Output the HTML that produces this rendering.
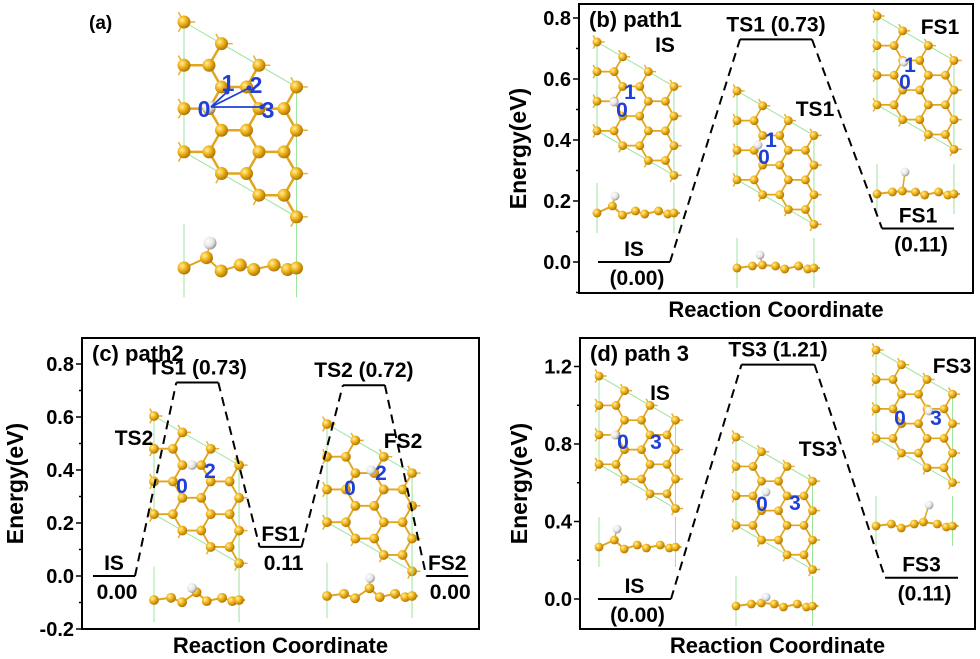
<!DOCTYPE html>
<html><head><meta charset="utf-8">
<style>
body{margin:0;background:#fff;}
svg{display:block;font-family:"Liberation Sans",Arial,sans-serif;font-weight:bold;}
</style></head>
<body>
<svg id="fig" width="980" height="659" viewBox="0 0 980 659" xmlns="http://www.w3.org/2000/svg">
<defs>
<radialGradient id="au" cx="0.35" cy="0.35" r="0.7"><stop offset="0" stop-color="#fff2a0"/><stop offset="0.45" stop-color="#f2b51c"/><stop offset="1" stop-color="#a87000"/></radialGradient>
<radialGradient id="hh" cx="0.35" cy="0.35" r="0.7"><stop offset="0" stop-color="#ffffff"/><stop offset="0.6" stop-color="#e4e4e4"/><stop offset="1" stop-color="#909090"/></radialGradient>
</defs>
<g id="structs"></g>
<g id="charts"></g>
<text x="89" y="29" font-size="19">(a)</text>
</svg>
<script>
// ---- chart data ----
const pathBLabels = ["IS","TS1","FS1"];
const pathBValues = [0.00, 0.73, 0.11];
const pathCLabels = ["IS","TS1","FS1","TS2","FS2"];
const pathCValues = [0.00, 0.73, 0.11, 0.72, 0.00];
const pathDLabels = ["IS","TS3","FS3"];
const pathDValues = [0.00, 1.21, 0.11];
const ticksB = ["0.0","0.2","0.4","0.6","0.8"];
const ticksC = ["-0.2","0.0","0.2","0.4","0.6","0.8"];
const ticksD = ["0.0","0.4","0.8","1.2"];

const NS="http://www.w3.org/2000/svg";
function mk(tag, attrs, parent){const e=document.createElementNS(NS,tag);for(const k in attrs)e.setAttribute(k,attrs[k]);parent.appendChild(e);return e;}
function txt(parent,x,y,s,size,anchor,fill){const t=mk('text',{x:x,y:y,'font-size':size,'text-anchor':anchor||'middle',fill:fill||'#000'},parent);t.textContent=s;return t;}

const charts=document.getElementById('charts');
const structs=document.getElementById('structs');

// ---- structures ----
function slab(name,cx,cy,b){
  const g=mk('g',{},structs);
  
  
  const h=Math.sqrt(3)*b, t=Math.tan(Math.PI/6);
  const W=4.5*b, H=3*h;
  const pts=[[cx,cy],[cx+W,cy+W*t],[cx+W,cy+W*t+H],[cx,cy+H]];
  mk('polygon',{points:pts.map(p=>p.join(',')).join(' '),fill:'none',stroke:'#9be49b','stroke-width':1},g);
  const atoms=[];
  const inside=(x,y)=>{const dx=x-cx,dy=y-cy;const u=dx/W,v=(dy-dx*t)/H;return u>-0.03&&u<1.03&&v>-0.03&&v<1.03;};
  for(let i=-1;i<=4;i++)for(let j=-2;j<=4;j++){
    const bx=cx+i*1.5*b, by=cy+i*h/2+j*h;
    [[0,0,0],[b,0,1]].forEach(o=>{const x=bx+o[0],y=by+o[1];if(inside(x,y))atoms.push({x:x,y:y,k:o[2]});});
  }
  const dirs=[[b,0],[-0.5*b,-h/2],[-0.5*b,h/2]];
  atoms.forEach(a=>{
    dirs.forEach(d=>{const s=a.k===0?1:-1;const nx=a.x+s*d[0],ny=a.y+s*d[1];
      const has=atoms.some(q=>Math.abs(q.x-nx)<0.5&&Math.abs(q.y-ny)<0.5);
      if(has){ if(a.k===0) mk('line',{x1:a.x,y1:a.y,x2:nx,y2:ny,stroke:'#e2a51e','stroke-width':Math.max(1.5,b*0.1)},g);}
      else mk('line',{x1:a.x,y1:a.y,x2:a.x+s*d[0]*0.45,y2:a.y+s*d[1]*0.45,stroke:'#e8b030','stroke-width':1.5},g);
    });
  });
  atoms.forEach(a=>mk('circle',{cx:a.x,cy:a.y,r:b*0.26,fill:'url(#au)'},g));
  return g;
}
function side(name,x0,y0,b,hx,hy){
  const g=mk('g',{},structs);
  
  
  const W=4.5*b;
  mk('line',{x1:x0,y1:y0-30*b/17,x2:x0,y2:y0+20*b/17,stroke:'#9be49b','stroke-width':1},g);
  mk('line',{x1:x0+W,y1:y0-30*b/17,x2:x0+W,y2:y0+20*b/17,stroke:'#9be49b','stroke-width':1},g);
  const fx=[0,0.2,0.33,0.5,0.62,0.8,0.92,1.0], fy=[0,-2,2,-2,1,-2,1,0];
  const pts=fx.map((f,i)=>[x0+f*W,y0+fy[i]*b/17]);
  let k=0,best=1e9;pts.forEach((p,i)=>{const d=Math.abs(p[0]-hx);if(d<best){best=d;k=i;}});
  pts[k][1]-=5*b/17;
  mk('polyline',{points:pts.map(p=>p.join(',')).join(' ')+' '+(x0+W+6)+','+y0,fill:'none',stroke:'#e2a51e','stroke-width':2},g);
  mk('line',{x1:pts[k][0],y1:pts[k][1],x2:hx,y2:hy,stroke:'#e2a51e','stroke-width':1.5},g);
  pts.forEach(p=>mk('circle',{cx:p[0],cy:p[1],r:b*0.26,fill:'url(#au)'},g));
  mk('circle',{cx:hx,cy:hy,r:b*0.26,fill:'url(#hh)'},g);
}
function hatom(x,y,b){mk('circle',{cx:x,cy:y,r:b*0.26,fill:'url(#hh)'},structs);}
function blue(s,x,y,size){const t=txt(structs,x,y,s,size||21,'middle','#1f3fd6');}
function lab(s,x,y,size){const t=txt(structs,x,y,s,size||21,'middle');}

// panel a
slab('panel-a-top-view',184,22,25);
side('panel-a-side-view',184,268,25,210,243);
hatom(209,107,25);
[[227,92],[249,88],[262,107]].forEach(p=>{
  mk('line',{x1:211,y1:107,x2:p[0],y2:p[1],stroke:'#1f3fd6','stroke-width':1.8},structs);
  mk('circle',{cx:p[0],cy:p[1],r:2.5,fill:'#1f3fd6'},structs);
});
blue('0',204,117,23);blue('1',228,91,23);blue('2',256,93,23);blue('3',268,118,23);

// panel b
slab('b-is-top',597,42,17.1); side('b-is-side',597,213,17.1,615,196); hatom(614,102,17.1);
blue('0',622,117);blue('1',630,99);lab('IS',665,52);
slab('b-ts1-top',737,91,17.1); side('b-ts1-side',737,268,17.1,760,255); hatom(758,145,17.1);
blue('0',764,164);blue('1',771,147);lab('TS1',815,116);
slab('b-fs1-top',877,16,17.1); side('b-fs1-side',877,194,17.1,905,172); hatom(904,62,17.1);
blue('0',905,89);blue('1',910,72);lab('FS1',940,34);

// panel c
slab('c-ts2-top',154,416,18.9); side('c-ts2-side',154,600,18.9,192,588); hatom(192,465,18.9);
blue('0',182,493);blue('2',210,478);lab('TS2',134,445);
slab('c-fs2-top',327,424,18.9); side('c-fs2-side',327,596,18.9,370,578); hatom(371,470,18.9);
blue('0',350,495);blue('2',381,480);lab('FS2',403,448);

// panel d
slab('d-is-top',599,376,17); side('d-is-side',599,547,17,617,529); hatom(615,435,17);
blue('0',623,449);blue('3',656,449);lab('IS',660,400);
slab('d-ts3-top',736,437,17); side('d-ts3-side',736,606,17,766,597); hatom(766,492,17);
blue('0',762,511);blue('3',795,510);lab('TS3',818,456);
slab('d-fs3-top',876,350,17); side('d-fs3-side',876,526,17,929,505); hatom(929,411,17);
blue('0',900,425);blue('3',936,425);lab('FS3',952,373);

// ---- charts ----
function panel(o){
  const g=mk('g',{},charts);
  
  
  const y=v=>o.y0-v*o.k;
  const xs=i=>o.xStart+i*o.step;
  const fr=mk('rect',{x:o.L,y:o.T,width:o.R-o.L,height:o.B-o.T,fill:'none',stroke:'#000','stroke-width':2},g);
  
  
  o.ticks.forEach(s=>{const v=parseFloat(s),yy=y(v);
    mk('line',{x1:o.L-6,y1:yy,x2:o.L,y2:yy,stroke:'#000','stroke-width':1.5},g);
    const t=txt(g,o.L-8,yy+7,s,20,'end');
    
    
    const vm=v+o.minor; if(y(vm)>o.T) mk('line',{x1:o.L-3,y1:y(vm),x2:o.L,y2:y(vm),stroke:'#000','stroke-width':1.5},g);
  });
  const v0=parseFloat(o.ticks[0])-o.minor; if(y(v0)<o.B) mk('line',{x1:o.L-3,y1:y(v0),x2:o.L,y2:y(v0),stroke:'#000','stroke-width':1.5},g);
  o.values.forEach((v,i)=>{
    const x1=xs(i),x2=x1+o.w,yy=y(v);
    const ln=mk('line',{x1:x1,y1:yy,x2:x2,y2:yy,stroke:'#000','stroke-width':2},g);
    
    
    const cxm=(x1+x2)/2, isTS=o.labels[i].startsWith('TS');
    if(isTS){
      const t=txt(g,cxm,yy-8,o.labels[i]+' ('+v.toFixed(2)+')',21);
      
      
    } else {
      const t1=txt(g,cxm,yy-6,o.labels[i],21);
      
      
      const t2=txt(g,cxm+3,yy+23,o.paren?'('+v.toFixed(2)+')':v.toFixed(2),21);
      
      
    }
    if(i>0){
      const d=mk('line',{x1:xs(i-1)+o.w,y1:y(o.values[i-1]),x2:x1,y2:yy,stroke:'#000','stroke-width':2,'stroke-dasharray':'9,6'},g);
      
      
    }
  });
  const yt=txt(g,0,0,'Energy(eV)',23);
  yt.setAttribute('transform','translate('+o.ytX+','+((o.T+o.B)/2)+') rotate(-90)');
  
  
  const xt=txt(g,(o.L+o.R)/2,o.B+24,'Reaction Coordinate',22);
  
  
  const pt=txt(g,o.L+10,o.T+23,o.title,22,'start');
  
  
}
panel({name:'panel-b-path1',L:579,R:973,T:4,B:293,y0:262,k:305,minor:0.1,ticks:ticksB,values:pathBValues,labels:pathBLabels,xStart:598,step:142,w:72,paren:true,ytX:526,title:'(b) path1'});
panel({name:'panel-c-path2',L:82,R:479,T:338,B:629,y0:576,k:265,minor:0.1,ticks:ticksC,values:pathCValues,labels:pathCLabels,xStart:93,step:83.3,w:42,paren:false,ytX:23,title:'(c) path2'});
panel({name:'panel-d-path3',L:580,R:975,T:338,B:629,y0:599,k:193.75,minor:0.2,ticks:ticksD,values:pathDValues,labels:pathDLabels,xStart:598,step:143.5,w:73,paren:true,ytX:527,title:'(d) path 3'});
</script>
</body></html>
